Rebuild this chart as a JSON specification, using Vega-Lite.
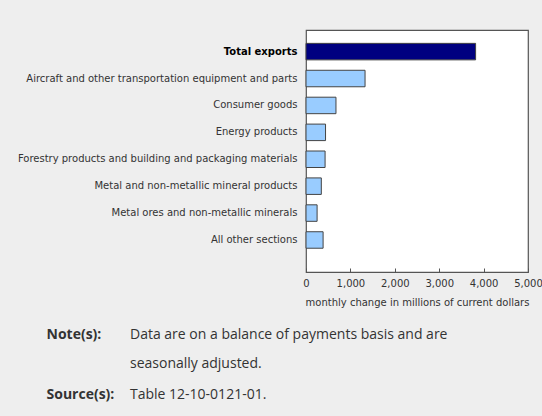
{
  "$schema": "https://vega.github.io/schema/vega-lite/v6.json",
  "width": 222,
  "height": 242,
  "autosize": "none",
  "padding": {"left": 306, "top": 30, "right": 14, "bottom": 144},
  "background": "#eeeeee",
  "view": {"fill": "white", "stroke": "#555555", "strokeWidth": 1.2},
  "title": {
    "text": ["Data are on a balance of payments basis and are", "seasonally adjusted."],
    "subtitle": "Table 12-10-0121-01.",
    "orient": "bottom",
    "anchor": "start",
    "frame": "group",
    "dx": -176,
    "offset": -73,
    "font": "Open Sans",
    "fontSize": 14,
    "fontWeight": "normal",
    "color": "#333333",
    "lineHeight": 29,
    "subtitleFont": "Open Sans",
    "subtitleFontSize": 14,
    "subtitleColor": "#333333",
    "subtitleLineHeight": 29,
    "subtitlePadding": 17
  },
  "data": {
    "values": [
      {"section": "Total exports", "change": 3820, "type": "total"},
      {"section": "Aircraft and other transportation equipment and parts", "change": 1330, "type": "section"},
      {"section": "Consumer goods", "change": 675, "type": "section"},
      {"section": "Energy products", "change": 440, "type": "section"},
      {"section": "Forestry products and building and packaging materials", "change": 430, "type": "section"},
      {"section": "Metal and non-metallic mineral products", "change": 345, "type": "section"},
      {"section": "Metal ores and non-metallic minerals", "change": 250, "type": "section"},
      {"section": "All other sections", "change": 385, "type": "section"}
    ]
  },
  "mark": {"type": "bar", "stroke": "#444444", "strokeWidth": 1},
  "encoding": {
    "y": {
      "field": "section",
      "type": "nominal",
      "sort": null,
      "scale": {"paddingInner": 0.387, "paddingOuter": 0.69, "align": 0.36},
      "axis": {
        "title": ["Note(s):", "Source(s):"],
        "titleAngle": 0,
        "titleX": -260,
        "titleY": 308,
        "titleAlign": "left",
        "titleBaseline": "alphabetic",
        "titleFont": "Open Sans",
        "titleFontSize": 14,
        "titleFontWeight": "bold",
        "titleColor": "#333333",
        "titleLineHeight": 60,
        "domain": false,
        "ticks": false,
        "labelPadding": 9,
        "labelFont": "DejaVu Sans",
        "labelFontSize": 10,
        "labelLimit": 400,
        "labelColor": {"condition": {"test": "datum.value == 'Total exports'", "value": "#000000"}, "value": "#333333"},
        "labelFontWeight": {"condition": {"test": "datum.value == 'Total exports'", "value": "bold"}, "value": "normal"}
      }
    },
    "x": {
      "field": "change",
      "type": "quantitative",
      "scale": {"domain": [0, 5000], "nice": false},
      "axis": {
        "title": "monthly change in millions of current dollars",
        "values": [0, 1000, 2000, 3000, 4000, 5000],
        "format": ",.0f",
        "grid": false,
        "domain": false,
        "tickSize": -4,
        "tickColor": "#555555",
        "labelFlush": false,
        "labelOverlap": false,
        "labelPadding": 10,
        "labelFont": "DejaVu Sans",
        "labelFontSize": 10,
        "labelColor": "#333333",
        "titleFont": "DejaVu Sans",
        "titleFontSize": 10,
        "titleFontWeight": "normal",
        "titleColor": "#333333",
        "titlePadding": 9
      }
    },
    "color": {
      "field": "type",
      "type": "nominal",
      "scale": {"domain": ["total", "section"], "range": ["#000080", "#99ccff"]},
      "legend": null
    }
  }
}
